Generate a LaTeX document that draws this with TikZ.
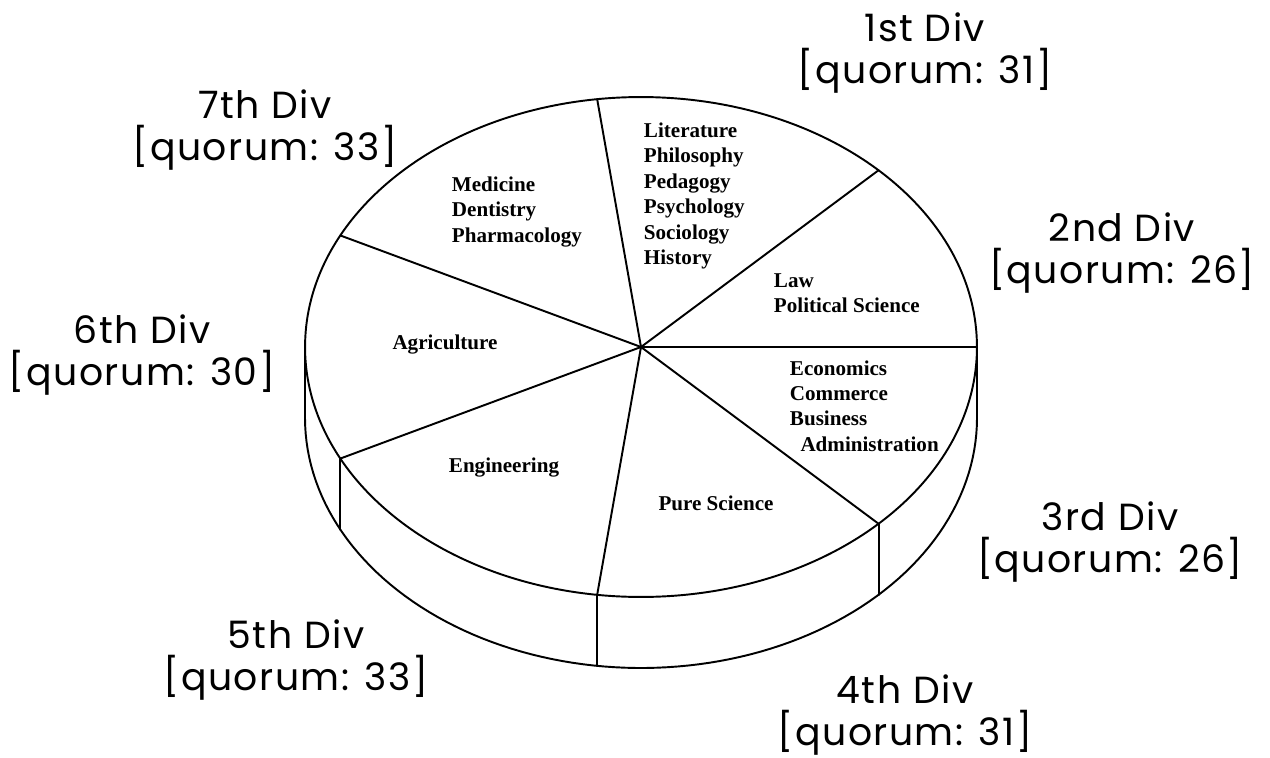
\documentclass[tikz,border=0pt]{standalone}
\usepackage{fontspec}
\setmainfont{Liberation Serif}
\newfontfamily\divfont[LetterSpace=4]{Poppins}
\tikzset{
  divlabel/.style={font={\divfont\fontsize{21.5pt}{24pt}\selectfont}, align=center, inner sep=0pt},
  field/.style={font={\bfseries\fontsize{12pt}{14.5pt}\selectfont}, align=left, inner sep=0pt}
}
\begin{document}
\begin{tikzpicture}[x=0.02cm, y=-0.02cm, line width=1.1pt, line join=round, line cap=round]
		\useasboundingbox (0,0) rectangle (1270,757);
		\coordinate (hub) at (641,347);
		% rim points of the top face
		\foreach \name/\t in {r1/97.5, r2/45, r3/0, r4/-45, r5/-97.5, r6/-153.5, r7/153.5}
		{\coordinate (\name) at ({641+336*cos(\t)},{347-250*sin(\t)});}
		% side of the disc
		\draw plot[domain=180:360, samples=100] ({641+336*cos(\x)},{418-250*sin(\x)});
		\draw (305,347)--(305,418);
		\draw (977,347)--(977,418);
		\foreach \r in {r4,r5,r6}
		{\draw (\r)--++(0,71);}
		% top face
		\draw (hub) ellipse [x radius=6.72cm, y radius=5cm];
		\foreach \r in {r1,r2,r3,r4,r5,r6,r7}
		{\draw (hub)--(\r);}
		% fields
		\node[field, anchor=west] (lit) at (643,196) {Literature\\Philosophy\\Pedagogy\\Psychology\\Sociology\\History};
		\node[field, anchor=west] (law) at (773,293) {Law\\Political Science};
		\node[field, anchor=west] (eco) at (789,406) {Economics\\Commerce\\Business\\\hspace*{6pt}Administration};
		\node[field] (sci) at (716,503) {Pure Science};
		\node[field] (eng) at (504,468) {Engineering};
		\node[field] (agr) at (445,345) {Agriculture};
		\node[field, anchor=west] (med) at (451,212) {Medicine\\Dentistry\\Pharmacology};
		% divisions
		\node[divlabel] (d1) at (925,53) {1st Div\\{}[quorum: 31]};
		\node[divlabel] (d2) at (1122,253) {2nd Div\\{}[quorum: 26]};
		\node[divlabel] (d3) at (1110,542) {3rd Div\\{}[quorum: 26]};
		\node[divlabel] (d4) at (905,715) {4th Div\\{}[quorum: 31]};
		\node[divlabel] (d5) at (296,660) {5th Div\\{}[quorum: 33]};
		\node[divlabel] (d6) at (142,355) {6th Div\\{}[quorum: 30]};
		\node[divlabel] (d7) at (265,130) {7th Div\\{}[quorum: 33]};
\end{tikzpicture}
\end{document}
